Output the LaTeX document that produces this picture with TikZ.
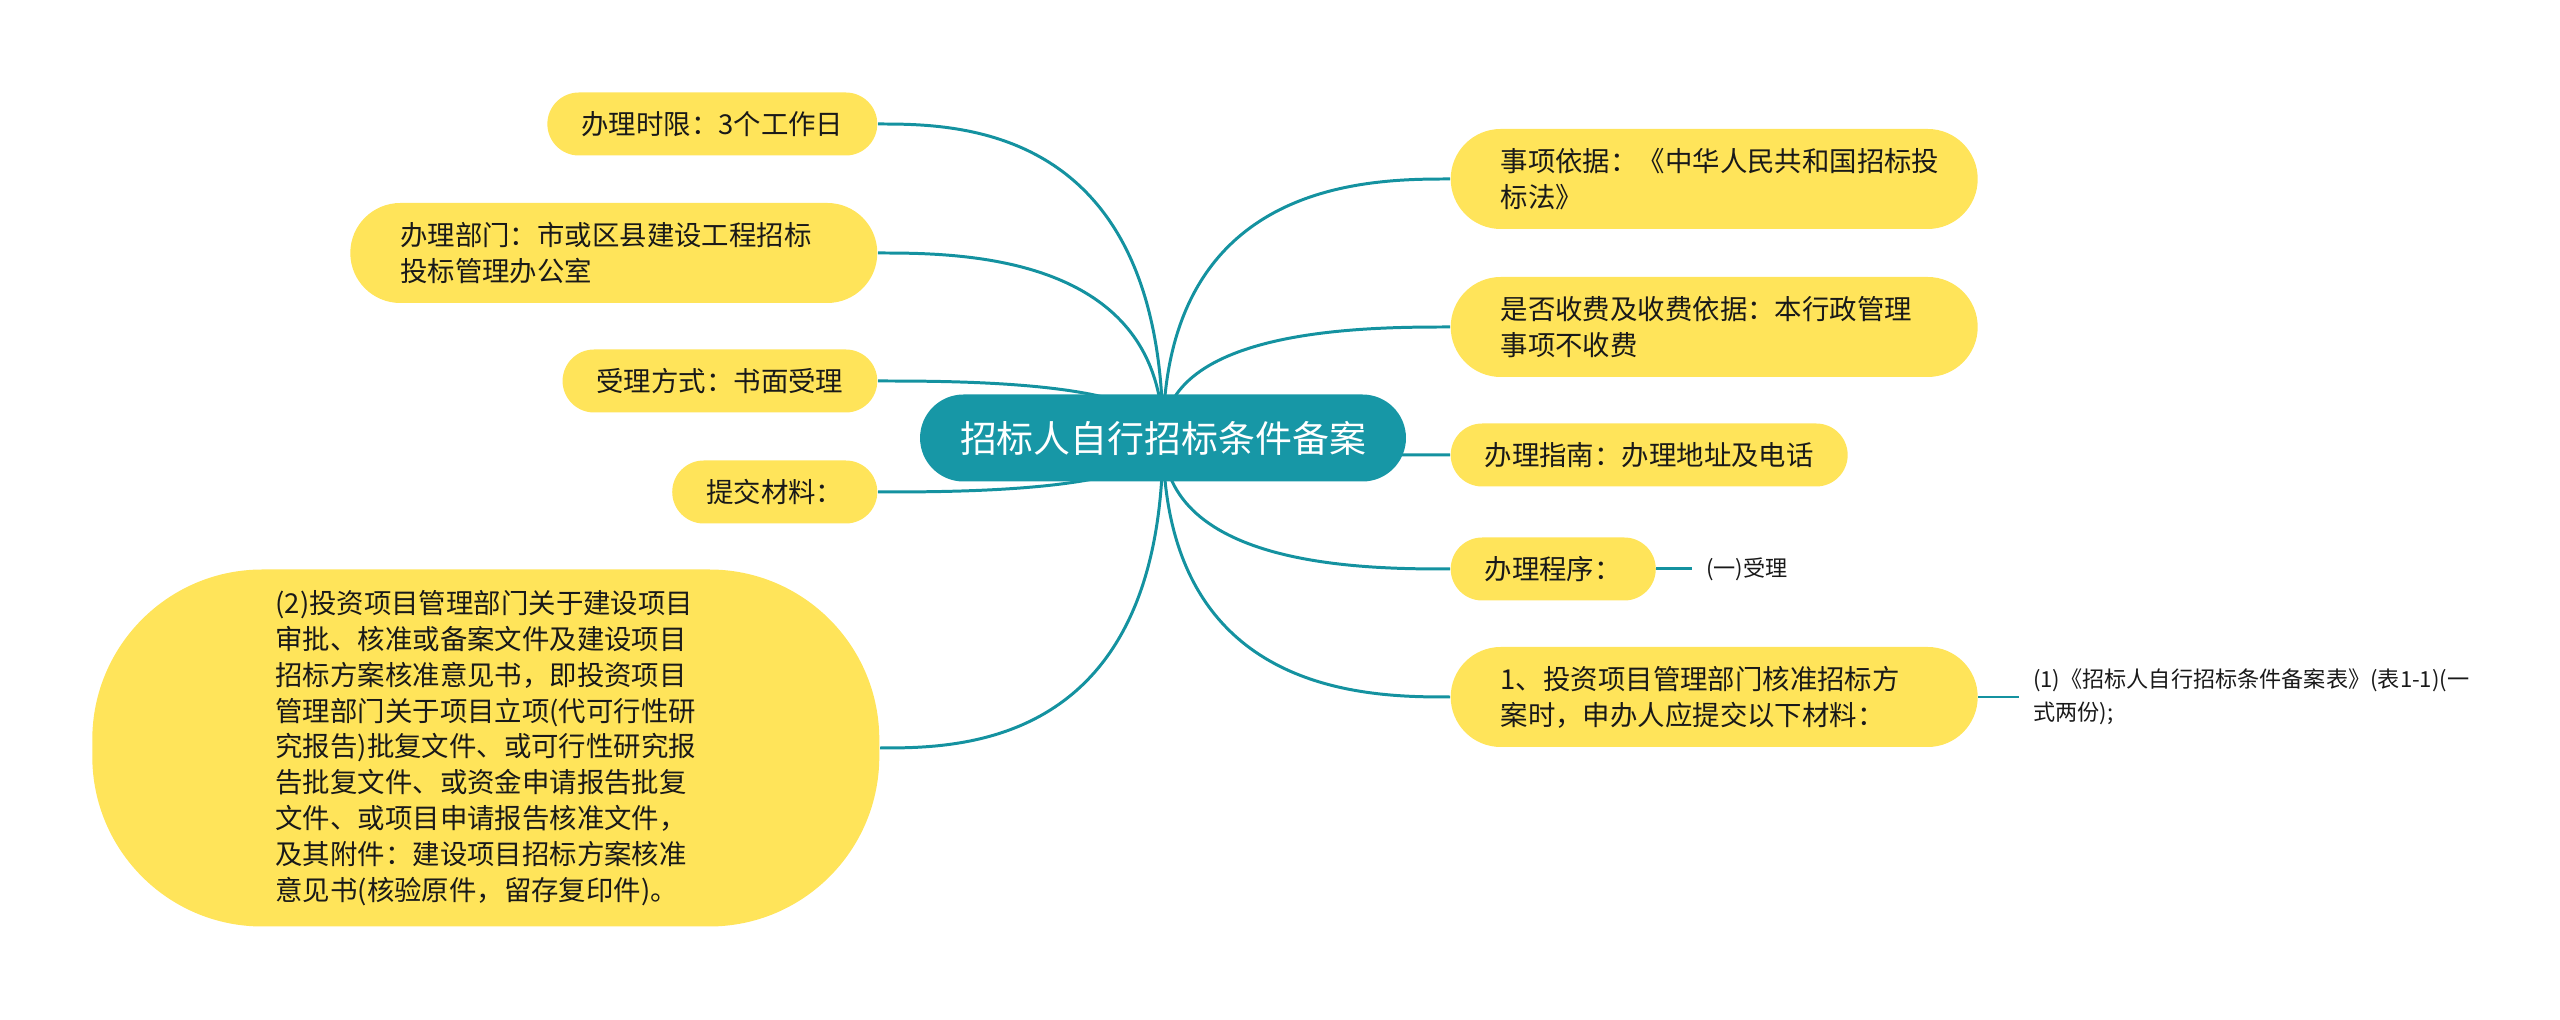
\documentclass[tikz,border=0pt]{standalone}
\usepackage{fontspec}
\setmainfont{Noto Sans CJK SC}
\usepackage{xcolor}
\usetikzlibrary{positioning, backgrounds}
\definecolor{rootteal}{RGB}{23,151,166}
\definecolor{linkteal}{RGB}{20,146,160}
\definecolor{leafyellow}{RGB}{255,228,90}
\begin{document}
\begin{tikzpicture}[
  root/.style   ={rectangle, rounded corners=4.35mm, fill=rootteal, text=white,
                  font=\fontsize{10.5}{13}\selectfont,
                  minimum height=8.7mm, inner xsep=4mm, inner ysep=0.5mm},
  leaf/.style   ={rectangle, rounded corners=3.15mm, fill=leafyellow, text=black!90,
                  font=\fontsize{7.8}{10.2}\selectfont, minimum height=6.3mm,
                  inner xsep=3.4mm, inner ysep=0.5mm, align=left},
  leaftwo/.style={leaf, rounded corners=5mm, minimum height=10mm,
                  inner xsep=5mm, text width=42.7mm},
  bigleaf/.style={leaf, rounded corners=17mm, minimum height=35.7mm, minimum width=78.7mm},
  note/.style   ={font=\fontsize{6.3}{9.4}\selectfont, text=black!90,
                  inner xsep=1.3mm, inner ysep=0.5mm, align=left},
  link/.style   ={draw=linkteal, line width=0.85pt},
  branch/.style ={link, to path={.. controls (\tikztostart |- \tikztotarget)
                  and ([xshift=#1]\tikztotarget) .. (\tikztotarget)}}
]
\useasboundingbox (0,0) rectangle (25.6,-10.2);

% ---------- Root ----------
\node[root] (root) at (11.63,-4.38) {招标人自行招标条件备案};

% ---------- Left branches ----------
\node[leaf,    anchor=east] (time)   at (8.78,-1.24) {办理时限：3个工作日};
\node[leaftwo, anchor=east] (dept)   at (8.78,-2.53) {办理部门：市或区县建设工程招标\\投标管理办公室};
\node[leaf,    anchor=east] (accept) at (8.78,-3.81) {受理方式：书面受理};
\node[leaf,    anchor=east] (submit) at (8.78,-4.92) {提交材料：};
\node[bigleaf, anchor=east] (docs)   at (8.80,-7.48)
  {(2)投资项目管理部门关于建设项目\\审批、核准或备案文件及建设项目\\招标方案核准意见书，即投资项目\\管理部门关于项目立项(代可行性研\\究报告)批复文件、或可行性研究报\\告批复文件、或资金申请报告批复\\文件、或项目申请报告核准文件，\\及其附件：建设项目招标方案核准\\意见书(核验原件，留存复印件)。};

% ---------- Right branches ----------
\node[leaftwo, anchor=west] (basis) at (14.50,-1.79) {事项依据：《中华人民共和国招标投\\标法》};
\node[leaftwo, anchor=west] (fee)   at (14.50,-3.27) {是否收费及收费依据：本行政管理\\事项不收费};
\node[leaf,    anchor=west] (guide) at (14.50,-4.55) {办理指南：办理地址及电话};
\node[leaf,    anchor=west] (proc)  at (14.50,-5.69) {办理程序：};
\node[leaftwo, anchor=west] (step1) at (14.50,-6.97) {1、投资项目管理部门核准招标方\\案时，申办人应提交以下材料：};

\node[note, right=3.6mm of proc]  (accept1) {(一)受理};
\node[note, right=4.1mm of step1] (form1)   {(1)《招标人自行招标条件备案表》(表1-1)(一\\式两份);};

% ---------- Connectors ----------
\begin{scope}[on background layer]
  \draw[branch=8mm]  (root.center) to (time.east);
  \draw[branch=8mm]  (root.center) to (dept.east);
  \draw[branch=8mm]  (root.center) to (accept.east);
  \draw[branch=8mm]  (root.center) to (submit.east);
  \draw[branch=8mm]  (root.center) to (docs.east);

  \draw[branch=-8mm] (root.center) to (basis.west);
  \draw[branch=-8mm] (root.center) to (fee.west);
  \draw[branch=-8mm] (root.center) to (guide.west);
  \draw[branch=-8mm] (root.center) to (proc.west);
  \draw[branch=-8mm] (root.center) to (step1.west);
\end{scope}

\draw[link] (proc.east)  -- (accept1.west);
\draw[link] (step1.east) -- (form1.west);

\end{tikzpicture}
\end{document}
